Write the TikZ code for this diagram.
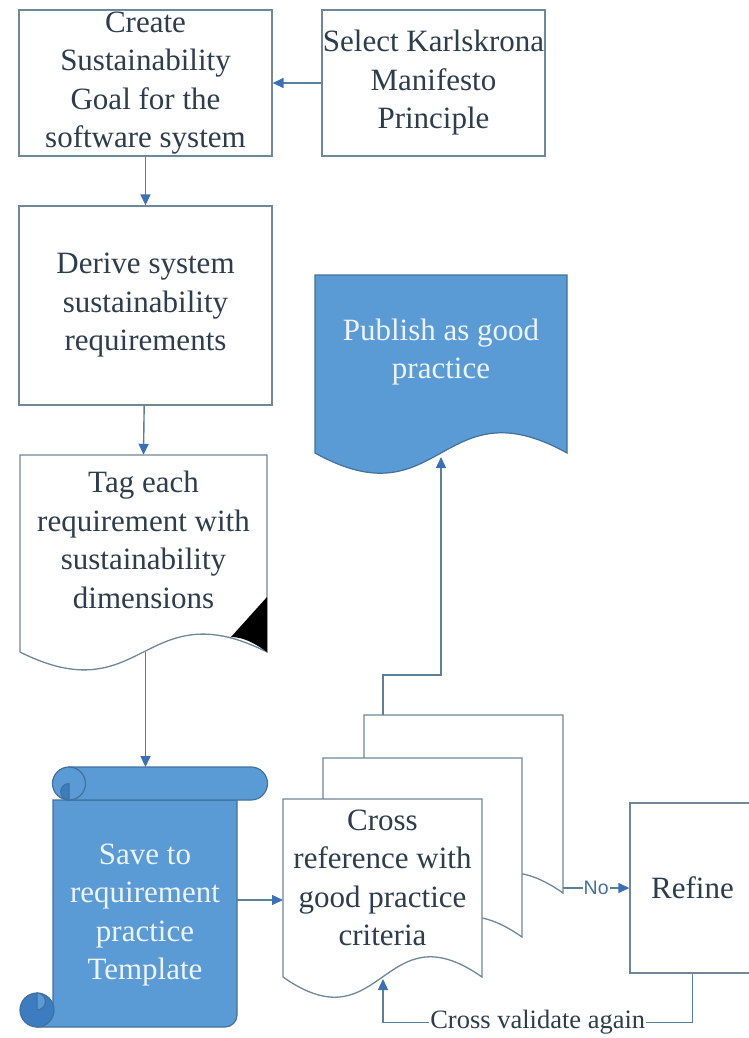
\documentclass[tikz,border=0pt]{standalone}
\usepackage{fontspec}
\setmainfont{LiberationSerif}[Extension=.ttf, UprightFont=*-Regular, BoldFont=*-Bold]
\setsansfont{Liberation Sans}
\usetikzlibrary{arrows.meta}

\definecolor{edgegray}{HTML}{6F8797}
\definecolor{linkgray}{HTML}{5E7F97}
\definecolor{tipblue}{HTML}{3A70B5}
\definecolor{inkdark}{HTML}{2E3D4C}
\definecolor{docblue}{HTML}{5B9BD5}
\definecolor{docline}{HTML}{41719C}
\definecolor{curlblue}{HTML}{3E7CC2}
\definecolor{paletext}{HTML}{EEF3F8}

\tikzset{
  box/.style={draw=edgegray, line width=1.3pt, fill=white, inner sep=0pt, align=center,
    text=inkdark, font=\fontsize{31}{38.5}\selectfont},
  doctext/.style={inner sep=0pt, align=center, text=inkdark, font=\fontsize{31}{38.5}\selectfont},
  docedge/.style={draw=edgegray, line width=1.3pt, fill=white},
  bluedoc/.style={draw=docline, line width=1.2pt, fill=docblue},
  link/.style={draw=linkgray, line width=1.4pt, -{Triangle[length=11pt,width=10pt,color=tipblue]}},
  nolabel/.style={fill=white, inner sep=1pt, text=docline, font=\sffamily\fontsize{19.5}{20}\selectfont},
  loopnote/.style={fill=white, inner sep=1pt, text=inkdark, font=\fontsize{26.5}{28}\selectfont}
}

\begin{document}
\begin{tikzpicture}[x=1pt,y=-1pt]
	\useasboundingbox (0,0) rectangle (748,1038);
	
	%%% top left column
	\node[box, minimum width=253pt, minimum height=146pt] (goal) at (145.5,83) {Create\\Sustainability\\Goal for the\\software system};
	\node[box, minimum width=223pt, minimum height=146pt] (karl) at (433.5,83) {Select Karlskrona\\Manifesto\\Principle};
	\node[box, minimum width=253pt, minimum height=199pt] (derive) at (145.5,305.5) {Derive system\\sustainability\\requirements};
	
	%%% tag document
	\draw[docedge] (20,455) -- (267,455) -- (267,652) .. controls (143.5,590) and (143.5,714) .. (20,652) -- cycle;
	\fill[black] (267,597) -- (231,637) .. controls (244,637) and (256,644) .. (267,652) -- cycle;
	\node[doctext, minimum width=247pt, minimum height=170pt] (tag) at (143.5,540) {Tag each\\requirement with\\sustainability\\dimensions};
	\coordinate (tagbot) at (145.5,652);
	
	%%% scroll
	\draw[bluedoc] (37,1027) -- (225,1027) arc[start angle=90, end angle=0, radius=12] -- (237,800) -- (53,800) -- (53,1010) -- (37,1010) -- cycle;
	\draw[bluedoc] (69,767) -- (251,767) arc[start angle=-90, end angle=90, radius=16.5] -- (69,800) -- cycle;
	\draw[bluedoc] (69,783.5) circle (16.5);
	\draw[bluedoc, fill=curlblue] (69,800) arc[start angle=90, end angle=270, radius=8.25] -- cycle;
	\draw[bluedoc, fill=curlblue] (37,1010) circle (17);
	\draw[bluedoc] (37,993) arc[start angle=-90, end angle=90, radius=8.5] -- cycle;
	\node[doctext, text=paletext] (save) at (145,915) {Save to\\requirement\\practice\\Template};
	\coordinate (savetop) at (145.5,767);
	\coordinate (saveright) at (237,900);
	
	%%% publish
	\draw[bluedoc] (315,275) -- (567,275) -- (567,453) .. controls (441,383) and (441,523) .. (315,453) -- cycle;
	\node[doctext, text=paletext, minimum width=252pt, minimum height=154pt] (publish) at (441,352) {Publish as good\\practice};
	\coordinate (pubbot) at (441,457);
	
	%%% stacked cross reference documents
	\draw[docedge] (364,715) -- (563,715) -- (563,893) .. controls (463.5,823) and (463.5,963) .. (364,893) -- cycle;
	\draw[docedge] (323,758) -- (522,758) -- (522,937) .. controls (422.5,867) and (422.5,1007) .. (323,937) -- cycle;
	\draw[docedge] (283,799) -- (482,799) -- (482,977) .. controls (382.5,907) and (382.5,1047) .. (283,977) -- cycle;
	\node[doctext, minimum width=199pt, minimum height=158pt] (cross) at (382.5,878) {Cross\\reference with\\good practice\\criteria};
	\coordinate (crossleft) at (283,900);
	\coordinate (crossbot) at (383,979);
	\coordinate (backtop) at (383,715);
	\coordinate (backright) at (563,888);
	
	\node[box, minimum width=125pt, minimum height=170pt] (refine) at (692.5,888) {Refine};
	
	%%% connectors
	\draw[link] (karl) -- (goal);
	\draw[link] (goal) -- (derive);
	\draw[link] (derive) -- (tag.north);
	\draw[link] (tagbot) -- (savetop);
	\draw[link] (saveright) -- (crossleft);
	\draw[link] (backtop) -- ++(0,-40) -| (pubbot);
	\draw[link] (backright) -- node[nolabel] {No} (refine.west);
	\draw[link] (refine.south) -- ++(0,49) -| node[pos=0.25, loopnote] {Cross validate again} (crossbot);
\end{tikzpicture}
\end{document}
